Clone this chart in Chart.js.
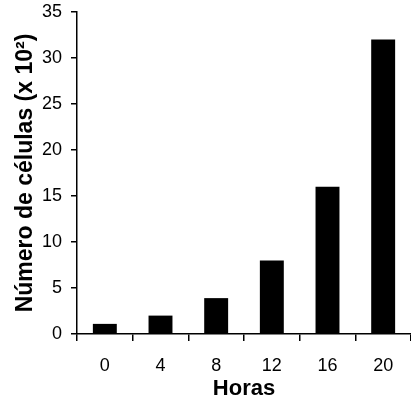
<!DOCTYPE html>
<html>
<head>
<meta charset="utf-8">
<script src="https://cdn.jsdelivr.net/npm/chart.js@4/dist/chart.umd.min.js"></script>
<style>
  html, body { margin: 0; padding: 0; background: #fff; }
  #wrap { width: 411px; height: 402px; }
</style>
</head>
<body>
<div id="wrap"><canvas id="chart"></canvas></div>
<script>
const hours = ['0', '4', '8', '12', '16', '20'];
const cellCounts = [1.1, 2, 3.9, 8, 16, 32];
const yTicks = [0, 5, 10, 15, 20, 25, 30, 35];

const ctx = document.getElementById('chart').getContext('2d');
new Chart(ctx, {
    type: 'bar',
    data: {
        labels: hours,
        datasets: [{
            data: cellCounts,
            backgroundColor: '#000',
            borderWidth: 0,
            barPercentage: 0.43,
            categoryPercentage: 1
        }]
    },
    options: {
        responsive: true,
        maintainAspectRatio: false,
        animation: false,
        layout: { padding: 0 },
        plugins: {
            legend: { display: false },
            tooltip: { enabled: false }
        },
        scales: {
            x: {
                offset: true,
                grid: {
                    offset: true,
                    drawOnChartArea: false,
                    drawTicks: true,
                    tickLength: 7,
                    color: '#000',
                    lineWidth: 1.5
                },
                border: { color: '#000', width: 1.5 },
                ticks: {
                    color: '#000',
                    font: { family: 'Liberation Sans', size: 18 },
                    padding: 14
                },
                title: {
                    display: true,
                    text: 'Horas',
                    color: '#000',
                    font: { family: 'Liberation Sans', size: 22, weight: 'bold' },
                    padding: { top: 0, bottom: 0 }
                },
                afterFit: function(scale) { scale.height = 68; }
            },
            y: {
                min: 0,
                max: 35,
                afterBuildTicks: function(scale) {
                    scale.ticks = yTicks.map(v => ({ value: v }));
                },
                grid: {
                    drawOnChartArea: false,
                    drawTicks: true,
                    tickLength: 6,
                    color: '#000',
                    lineWidth: 1.5
                },
                border: { color: '#000', width: 1.5 },
                ticks: {
                    color: '#000',
                    font: { family: 'Liberation Sans', size: 18 },
                    padding: 9
                },
                title: {
                    display: true,
                    text: 'Número de células (x 10²)',
                    color: '#000',
                    font: { family: 'Liberation Sans', size: 23, weight: 'bold' },
                    padding: { top: 12, bottom: 0 }
                },
                afterFit: function(scale) {
                    scale.width = 77;
                    scale.paddingTop = 12;
                }
            }
        }
    }
});
</script>
</body>
</html>
